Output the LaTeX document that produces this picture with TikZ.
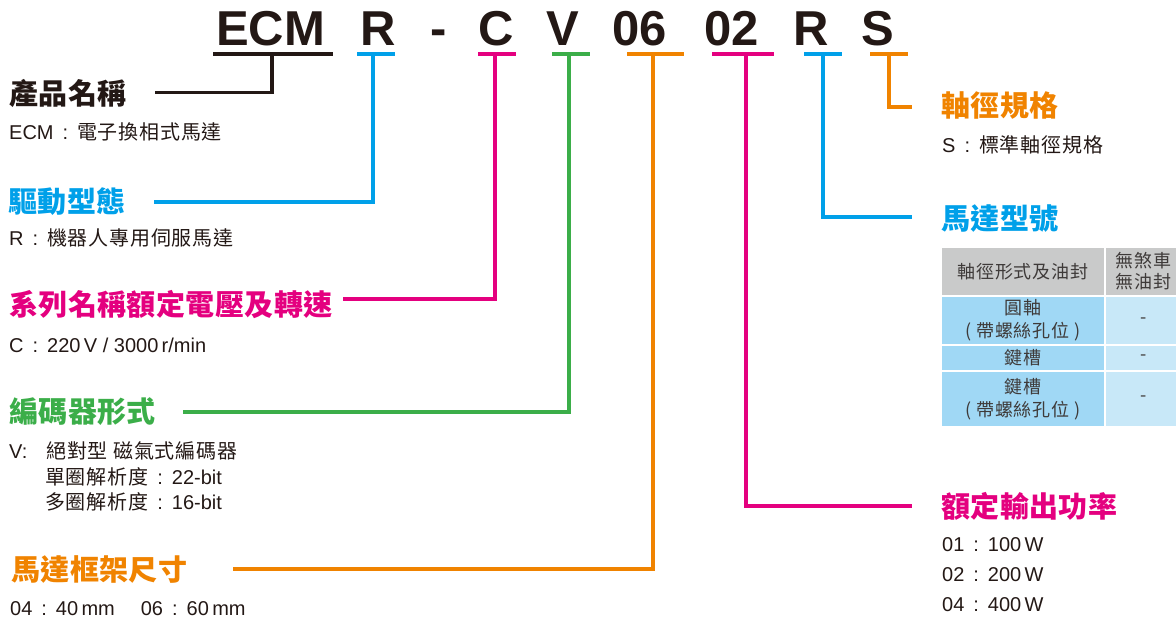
\documentclass[tikz,border=0pt]{standalone}
\usepackage{fontspec}
\setmainfont{Liberation Sans}
\newfontfamily\cjk{Noto Sans CJK TC}[LetterSpace=4]
\newfontfamily\cjkhead{Noto Sans CJK TC}[LetterSpace=1.5]
\newcommand{\zh}[1]{{\cjk #1}}
\newcommand{\sep}{\hspace{0.45em}:\hspace{0.45em}}
\definecolor{ink}{HTML}{231815}
\definecolor{cellink}{HTML}{3E3A39}
\definecolor{zblue}{HTML}{00A0E9}
\definecolor{zpink}{HTML}{E4007F}
\definecolor{zgreen}{HTML}{3BAE49}
\definecolor{zorange}{HTML}{F08300}
\definecolor{hdgray}{HTML}{C9CACA}
\definecolor{keyblue}{HTML}{A0D8F5}
\definecolor{valblue}{HTML}{C8E8F8}

\begin{document}
\begin{tikzpicture}[x=1pt,y=-1pt,every node/.style={inner sep=0pt}]
 \tikzstyle{codeletter} = [font=\fontsize{49}{49}\selectfont\bfseries,text=ink,anchor=base]
 \tikzstyle{heading} = [font=\fontsize{29}{32}\selectfont\cjkhead\bfseries,anchor=west]
 \tikzstyle{info} = [font=\fontsize{20}{25}\selectfont,text=ink,anchor=west,align=left]
 \tikzstyle{lead} = [line width=3.4pt]
 \tikzstyle{cell} = [draw=white,line width=2pt,font=\fontsize{18}{23}\selectfont\cjk,text=cellink,align=center]
 \useasboundingbox (0,0) rectangle (1176,619);
 \clip (0,0) rectangle (1176,619);

 % model code
 \node[codeletter] (ecm) at (270.5,45.5) {ECM};
 \node[codeletter] (drv) at (378.5,45.5) {R};
 \node[codeletter] (dash) at (438.5,45.5) {-};
 \node[codeletter] (ser) at (496,45.5) {C};
 \node[codeletter] (enc) at (562.5,45.5) {V};
 \node[codeletter] (frm) at (640,45.5) {06};
 \node[codeletter] (pwr) at (731.5,45.5) {02};
 \node[codeletter] (mdl) at (811,45.5) {R};
 \node[codeletter] (sft) at (877.5,45.5) {S};

 \coordinate (sECM) at (272,54);
 \coordinate (sR) at (373,54);
 \coordinate (sC) at (495,54);
 \coordinate (sV) at (569,54);
 \coordinate (s06) at (653,54);
 \coordinate (s02) at (746,54);
 \coordinate (sR2) at (823,54);
 \coordinate (sS) at (889,54);

 \coordinate (eName) at (155,92.5);
 \coordinate (eDrive) at (154,202);
 \coordinate (eSeries) at (343,299);
 \coordinate (eEnc) at (183,412);
 \coordinate (eFrame) at (233,569);
 \coordinate (ePower) at (912,506);
 \coordinate (eModel) at (912,217);
 \coordinate (eShaft) at (912,107);

 % underlines and leaders
 \draw[lead,ink] ([xshift=-59]sECM) -- ([xshift=61]sECM);
 \draw[lead,ink] (sECM) |- (eName);
 \draw[lead,zblue] ([xshift=-16]sR) -- ([xshift=22]sR);
 \draw[lead,zblue] (sR) |- (eDrive);
 \draw[lead,zpink] ([xshift=-17]sC) -- ([xshift=21]sC);
 \draw[lead,zpink] (sC) |- (eSeries);
 \draw[lead,zgreen] ([xshift=-17]sV) -- ([xshift=21]sV);
 \draw[lead,zgreen] (sV) |- (eEnc);
 \draw[lead,zorange] ([xshift=-26]s06) -- ([xshift=31]s06);
 \draw[lead,zorange] (s06) |- (eFrame);
 \draw[lead,zpink] ([xshift=-34]s02) -- ([xshift=28]s02);
 \draw[lead,zpink] (s02) |- (ePower);
 \draw[lead,zblue] ([xshift=-19]sR2) -- ([xshift=19]sR2);
 \draw[lead,zblue] (sR2) |- (eModel);
 \draw[lead,zorange] ([xshift=-19]sS) -- ([xshift=19]sS);
 \draw[lead,zorange] (sS) |- (eShaft);

 % left column
 \node[heading,text=ink] (hName) at (9,93) {產品名稱};
 \node[info] (iName) at (9,132) {ECM\sep\zh{電子換相式馬達}};
 \node[heading,text=zblue] (hDrive) at (8,202) {驅動型態};
 \node[info] (iDrive) at (9,238) {R\sep\zh{機器人專用伺服馬達}};
 \node[heading,text=zpink] (hSeries) at (9,305) {系列名稱額定電壓及轉速};
 \node[info] (iSeries) at (9,345) {C\sep 220\,V / 3000\,r/min};
 \node[heading,text=zgreen] (hEnc) at (9,412) {編碼器形式};
 \node[info] (iEnc1) at (9,451) {V:\hspace{19pt}\zh{絕對型 磁氣式編碼器}};
 \node[info] (iEnc2) at (45,477) {\zh{單圈解析度}\sep 22-bit};
 \node[info] (iEnc3) at (45,502) {\zh{多圈解析度}\sep 16-bit};
 \node[heading,text=zorange] (hFrame) at (11,569) {馬達框架尺寸};
 \node[info] (iFrame) at (10,609) {04\sep 40\,mm\hspace{26pt}06\sep 60\,mm};

 % right column
 \node[heading,text=zorange] (hShaft) at (941,105) {軸徑規格};
 \node[info] (iShaft) at (942,145) {S\sep\zh{標準軸徑規格}};
 \node[heading,text=zblue] (hModel) at (941,219) {馬達型號};
 \node[cell,fill=hdgray,minimum width=164,minimum height=48.5] (t11) at (1023,271.25) {軸徑形式及油封};
 \node[cell,fill=hdgray,minimum width=77,minimum height=48.5] (t12) at (1143.5,271.25) {無煞車\\[-2pt]無油封};
 \node[cell,fill=keyblue,minimum width=164,minimum height=49.5] (t21) at (1023,320.25) {圓軸\\( 帶螺絲孔位 )};
 \node[cell,fill=valblue,minimum width=77,minimum height=49.5] (t22) at (1143.5,320.25) {-};
 \node[cell,fill=keyblue,minimum width=164,minimum height=25.5] (t31) at (1023,357.75) {鍵槽};
 \node[cell,fill=valblue,minimum width=77,minimum height=25.5] (t32) at (1143.5,357.75) {-};
 \node[cell,fill=keyblue,minimum width=164,minimum height=56.5] (t41) at (1023,398.75) {鍵槽\\( 帶螺絲孔位 )};
 \node[cell,fill=valblue,minimum width=77,minimum height=56.5] (t42) at (1143.5,398.75) {-};
 \node[heading,text=zpink] (hPower) at (941,506) {額定輸出功率};
 \node[info] (iPow1) at (942,545) {01\sep 100\,W};
 \node[info] (iPow2) at (942,575) {02\sep 200\,W};
 \node[info] (iPow3) at (942,605) {04\sep 400\,W};
\end{tikzpicture}
\end{document}
